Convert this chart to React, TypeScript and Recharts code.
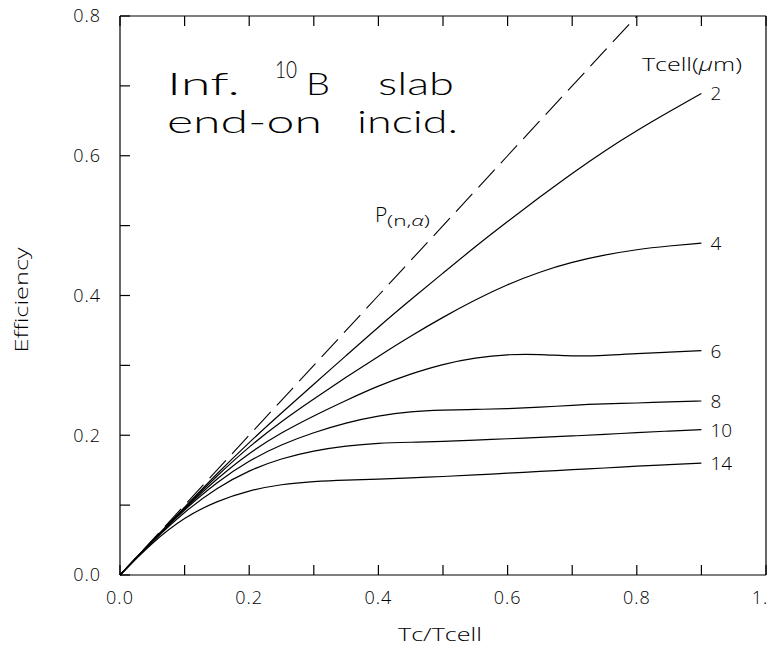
import { LineChart, Line, XAxis, YAxis, Customized } from 'recharts'

// Tc/Tcell sample points
const X = [0, 0.05, 0.1, 0.15, 0.2, 0.25, 0.3, 0.35, 0.4, 0.45, 0.5, 0.55, 0.6, 0.65, 0.7, 0.75, 0.8, 0.85, 0.9]

// P(n,alpha) reference line (dashed), stops at the top of the frame
const P_NA = [0, 0.05, 0.1, 0.15, 0.2, 0.25, 0.3, 0.35, 0.4, 0.45, 0.5, 0.55, 0.6, 0.65, 0.7, 0.75, 0.8, null, null]

// efficiency for each Tcell (um)
const T2 = [0, 0.049, 0.097, 0.145, 0.19, 0.232, 0.273, 0.314, 0.355, 0.394, 0.432, 0.47, 0.506, 0.541, 0.575, 0.607, 0.636, 0.663, 0.689]
const T4 = [0, 0.049, 0.096, 0.142, 0.184, 0.22, 0.252, 0.283, 0.313, 0.342, 0.369, 0.394, 0.416, 0.434, 0.448, 0.458, 0.466, 0.471, 0.475]
const T6 = [0, 0.049, 0.095, 0.138, 0.175, 0.204, 0.228, 0.25, 0.271, 0.288, 0.302, 0.311, 0.316, 0.316, 0.313, 0.314, 0.317, 0.319, 0.321]
const T8 = [0, 0.049, 0.094, 0.133, 0.164, 0.187, 0.204, 0.218, 0.228, 0.234, 0.236, 0.237, 0.238, 0.24, 0.243, 0.245, 0.246, 0.248, 0.249]
const T10 = [0, 0.048, 0.091, 0.125, 0.15, 0.167, 0.178, 0.185, 0.189, 0.19, 0.191, 0.193, 0.195, 0.197, 0.199, 0.201, 0.204, 0.206, 0.208]
const T14 = [0, 0.047, 0.083, 0.106, 0.121, 0.13, 0.134, 0.136, 0.137, 0.139, 0.141, 0.143, 0.146, 0.148, 0.151, 0.153, 0.156, 0.158, 0.16]

const SERIES_KEYS = ['t2', 't4', 't6', 't8', 't10', 't14']
const SERIES_LABELS = ['2', '4', '6', '8', '10', '14']

const X_TICKS = [0, 0.1, 0.2, 0.3, 0.4, 0.5, 0.6, 0.7, 0.8, 0.9, 1]
const Y_TICKS = [0, 0.1, 0.2, 0.3, 0.4, 0.5, 0.6, 0.7, 0.8]

const data = X.map((x, i) => ({
  x,
  p: P_NA[i],
  t2: T2[i],
  t4: T4[i],
  t6: T6[i],
  t8: T8[i],
  t10: T10[i],
  t14: T14[i],
}))

const FONT = "'Open Sans', 'DejaVu Sans', sans-serif"
const TITLE_FONT = "Lato, 'Liberation Sans', sans-serif"
const INK = '#000'
const TICK_LEN = 10

const isMajor = (v: number) => Math.round(v * 10) % 2 === 0
const fmt = (v: number) => (v === 1 ? '1.' : v.toFixed(1))

function BottomTick({ x, y, payload }: any) {
  const v = payload.value
  return (
    <g>
      <line x1={x} y1={y} x2={x} y2={y - TICK_LEN} stroke={INK} strokeWidth={1.2} />
      {isMajor(v) && (
        <text
          x={x}
          y={y + 29}
          dx={v === 1 ? -6 : 0}
          textAnchor="middle"
          fontFamily={FONT}
          fontWeight={300}
          fontSize={18}
          letterSpacing={1}
          fill={INK}
        >
          {fmt(v)}
        </text>
      )}
    </g>
  )
}

function TopTick({ x, y }: any) {
  return <line x1={x} y1={y} x2={x} y2={y + TICK_LEN} stroke={INK} strokeWidth={1.2} />
}

function LeftTick({ x, y, payload }: any) {
  const v = payload.value
  return (
    <g>
      <line x1={x} y1={y} x2={x + TICK_LEN} y2={y} stroke={INK} strokeWidth={1.2} />
      {isMajor(v) && (
        <text x={x - 19} y={y} dy="0.36em" textAnchor="end" fontFamily={FONT} fontWeight={300} fontSize={18} letterSpacing={1} fill={INK}>
          {fmt(v)}
        </text>
      )}
    </g>
  )
}

function RightTick({ x, y }: any) {
  return <line x1={x} y1={y} x2={x - TICK_LEN} y2={y} stroke={INK} strokeWidth={1.2} />
}

function EndLabel(text: string) {
  return (p: any) => {
    if (p.index !== X.length - 1) return null
    return (
      <text key={text} x={p.x + 9} y={p.y} dy="0.36em" fontFamily={FONT} fontWeight={300} fontSize={19} fill={INK}>
        {text}
      </text>
    )
  }
}

function Annotations() {
  const big = { fontFamily: TITLE_FONT, fontWeight: 300, fontSize: 31, fill: INK, lengthAdjust: 'spacingAndGlyphs' as const }
  return (
    <g>
      <text x={167} y={95} textLength={73} {...big}>Inf.</text>
      <text x={275} y={78} textLength={22} {...big} fontSize={23}>10</text>
      <text x={306} y={95} textLength={24} {...big}>B</text>
      <text x={378} y={95} textLength={76} {...big}>slab</text>
      <text x={167} y={133} textLength={155} {...big}>end-on</text>
      <text x={357} y={133} textLength={101} {...big}>incid.</text>

      <text x={642} y={71} textLength={100} lengthAdjust="spacingAndGlyphs" fontFamily={FONT} fontWeight={300} fontSize={19} fill={INK}>
        Tcell(<tspan fontStyle="italic">μ</tspan>m)
      </text>

      <text x={375} y={222} fontFamily={FONT} fontWeight={300} fontSize={21} fill={INK}>P</text>
      <text x={387} y={226} textLength={43} lengthAdjust="spacingAndGlyphs" fontFamily={FONT} fontWeight={300} fontSize={14} fill={INK}>
        (n,<tspan fontStyle="italic">α</tspan>)
      </text>

      <text
        x={440}
        y={641}
        textAnchor="middle"
        textLength={84}
        lengthAdjust="spacingAndGlyphs"
        fontFamily={FONT}
        fontWeight={300}
        fontSize={19}
        fill={INK}
      >
        Tc/Tcell
      </text>
      <text
        transform="translate(28 300) rotate(-90)"
        textAnchor="middle"
        textLength={105}
        lengthAdjust="spacingAndGlyphs"
        fontFamily={FONT}
        fontWeight={300}
        fontSize={19}
        fill={INK}
      >
        Efficiency
      </text>
    </g>
  )
}

export default function App() {
  return (
    <div style={{ position: 'absolute', left: 0, top: 0, width: 771, height: 653, background: '#fff' }}>
      <LineChart width={771} height={653} data={data} margin={{ top: 0, right: 0, bottom: 0, left: 0 }}>
        <XAxis
          dataKey="x"
          type="number"
          domain={[0, 1]}
          ticks={X_TICKS}
          interval={0}
          height={78}
          tickSize={0}
          tickMargin={0}
          tickLine={false}
          axisLine={{ stroke: INK, strokeWidth: 1.2 }}
          tick={(p: any) => <BottomTick {...p} />}
        />
        <XAxis
          xAxisId="top"
          orientation="top"
          dataKey="x"
          type="number"
          domain={[0, 1]}
          ticks={X_TICKS}
          interval={0}
          height={16}
          tickSize={0}
          tickMargin={0}
          tickLine={false}
          axisLine={{ stroke: INK, strokeWidth: 1.2 }}
          tick={(p: any) => <TopTick {...p} />}
        />
        <YAxis
          type="number"
          domain={[0, 0.8]}
          ticks={Y_TICKS}
          interval={0}
          width={120}
          tickSize={0}
          tickMargin={0}
          tickLine={false}
          axisLine={{ stroke: INK, strokeWidth: 1.2 }}
          tick={(p: any) => <LeftTick {...p} />}
        />
        <YAxis
          yAxisId="right"
          orientation="right"
          type="number"
          domain={[0, 0.8]}
          ticks={Y_TICKS}
          interval={0}
          width={5}
          tickSize={0}
          tickMargin={0}
          tickLine={false}
          axisLine={{ stroke: INK, strokeWidth: 1.2 }}
          tick={(p: any) => <RightTick {...p} />}
        />
        <Line
          dataKey="p"
          type="linear"
          stroke={INK}
          strokeWidth={1.1}
          strokeDasharray="24 9"
          dot={false}
          activeDot={false}
          connectNulls={false}
          isAnimationActive={false}
        />
        {SERIES_KEYS.map((k, i) => (
          <Line
            key={k}
            dataKey={k}
            type="basis"
            stroke={INK}
            strokeWidth={1.2}
            dot={false}
            activeDot={false}
            label={EndLabel(SERIES_LABELS[i])}
            isAnimationActive={false}
          />
        ))}
        <Customized component={Annotations} />
      </LineChart>
    </div>
  )
}
